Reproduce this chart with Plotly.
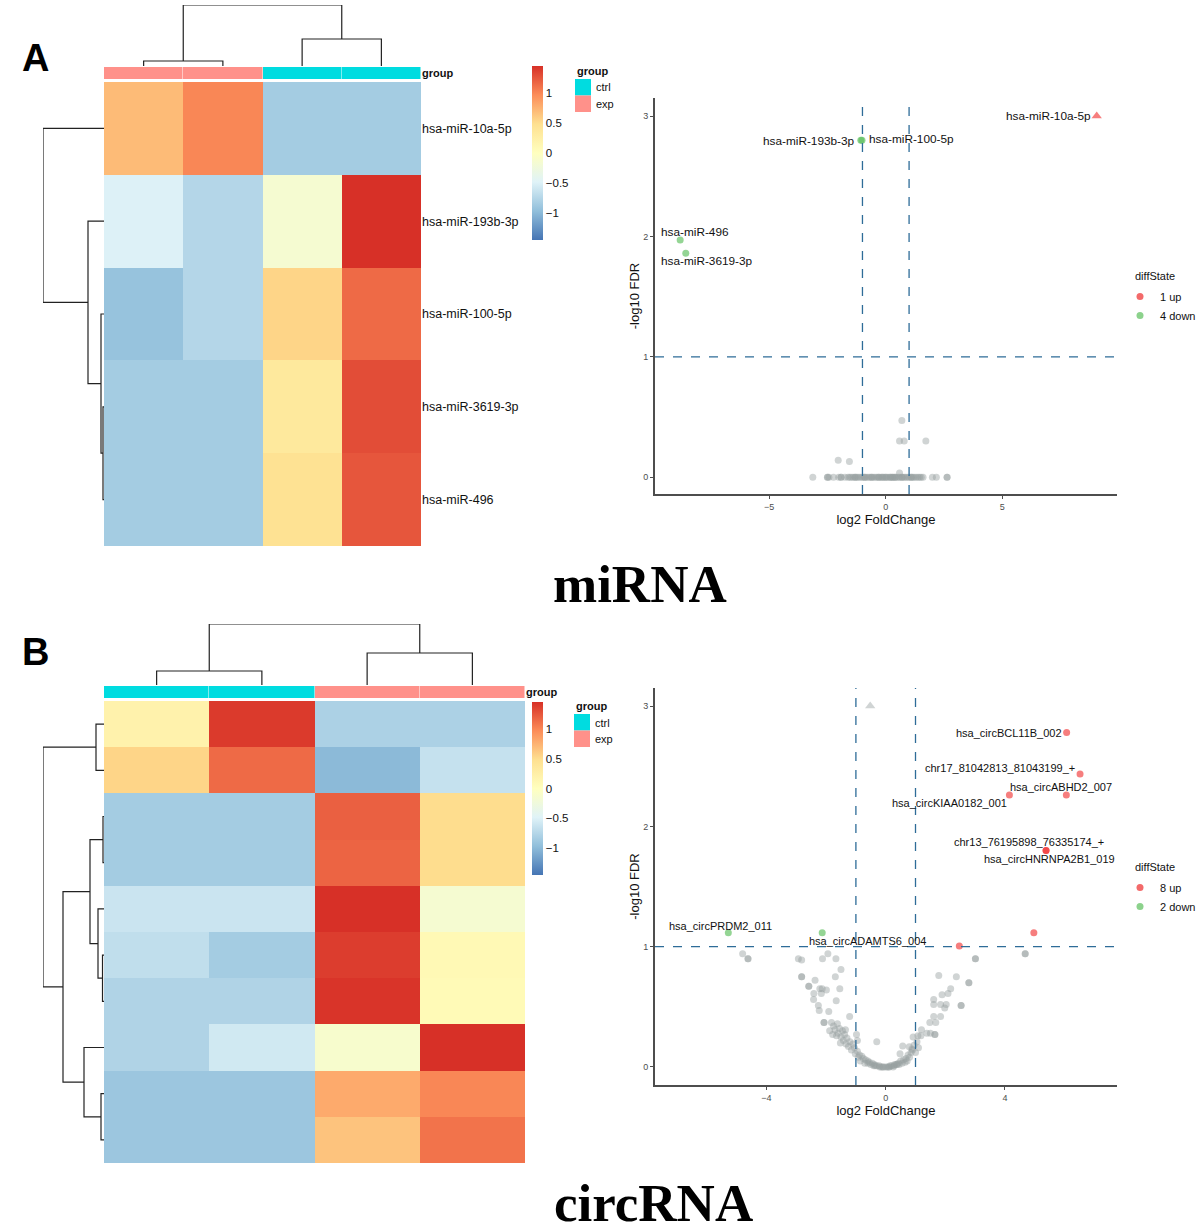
import plotly.graph_objects as go

W, H = 1200, 1226
def PX(p): return p / W
def PY(p): return 1 - p / H

FONT = "Liberation Sans, Arial, sans-serif"

# ---------------- DATA ----------------
group_levels = ["ctrl", "exp"]
group_colors = ["#00DCE0", "#FF918A"]

mirna_rows = ["hsa-miR-10a-5p", "hsa-miR-193b-3p", "hsa-miR-100-5p", "hsa-miR-3619-3p", "hsa-miR-496"]
mirna_col_groups = ["exp", "exp", "ctrl", "ctrl"]
mirna_z = [
    [0.70, 1.00, -0.85, -0.85],
    [-0.50, -0.75, -0.15, 1.45],
    [-0.93, -0.75, 0.55, 1.15],
    [-0.85, -0.85, 0.35, 1.30],
    [-0.85, -0.85, 0.45, 1.25],
]
mirna_row_links = [(3, 4, 1), (2, 5, 3), (1, 6, 16), (0, 7, 61)]
mirna_col_links = [(0, 1, 5), (2, 3, 27), (4, 5, 61)]

circ_col_groups = ["ctrl", "ctrl", "exp", "exp"]
circ_z = [
    [0.20, 1.40, -0.80, -0.80],
    [0.55, 1.15, -1.00, -0.65],
    [-0.85, -0.85, 1.20, 0.50],
    [-0.85, -0.85, 1.18, 0.50],
    [-0.62, -0.62, 1.45, -0.15],
    [-0.68, -0.85, 1.38, 0.10],
    [-0.78, -0.78, 1.43, 0.08],
    [-0.78, -0.58, -0.12, 1.45],
    [-0.90, -0.90, 0.80, 1.00],
    [-0.90, -0.90, 0.65, 1.10],
]
circ_row_links = [(5, 6, 1.5), (2, 3, 1), (8, 9, 3), (4, 10, 6), (0, 1, 8),
                  (11, 13, 14), (7, 12, 20), (15, 16, 41), (14, 17, 61)]
circ_col_links = [(0, 1, 14), (2, 3, 32), (4, 5, 61)]

heat_ticks = [-1, -0.5, 0, 0.5, 1]
heat_lim = 1.45

# volcano miRNA
mir_up_names = ["hsa-miR-10a-5p"]
mir_up_x = [9.05]
mir_up_y = [3.0]
mir_down_names = ["hsa-miR-193b-3p", "hsa-miR-100-5p", "hsa-miR-496", "hsa-miR-3619-3p"]
mir_down_x = [-1.07, -1.02, -8.82, -8.58]
mir_down_y = [2.80, 2.80, 1.97, 1.86]
mir_ns_x = [-3.13, -2.50, -2.50, -2.44, -2.24, -2.02, -1.92, -1.92, -1.75, -1.62, -1.55, -1.48,
            -1.40, -1.33, -1.25, -1.18, -1.10, -1.02, -0.95, -0.88, -0.80, -0.72, -0.65, -0.58,
            -0.50, -0.42, -0.35, -0.28, -0.20, -0.12, -0.05, 0.03, 0.10, 0.18, 0.25, 0.32, 0.40,
            0.47, 0.55, 0.62, 0.70, 0.78, 0.85, 0.93, 1.00, 1.08, 1.15, 1.22, 1.30, 1.38, 1.45,
            1.52, 1.60, 2.00, 2.17, 2.63, 2.63, -0.60, -0.30, 0.00, 0.20, 0.40, -0.90, 0.70,
            -1.30, 1.10, -0.15, 0.30, 0.69, 0.59, 0.79, 1.72, -2.04, -1.56, 0.59]
mir_ns_y = [0.0] * 64 + [0.0, 0.0, 0.0, 0.0, 0.47, 0.30, 0.30, 0.30, 0.14, 0.13, 0.035]

# volcano circRNA
circ_up_names = ["hsa_circBCL11B_002", "chr17_81042813_81043199_+", "hsa_circABHD2_007",
                 "hsa_circKIAA0182_001", "chr13_76195898_76335174_+", "hsa_circHNRNPA2B1_019", "", ""]
circ_up_x = [6.07, 6.52, 6.06, 4.15, 5.38, 5.38, 4.97, 2.47]
circ_up_y = [2.78, 2.435, 2.26, 2.26, 1.80, 1.80, 1.116, 1.005]
circ_down_names = ["hsa_circPRDM2_011", "hsa_circADAMTS6_004"]
circ_down_x = [-5.28, -2.13]
circ_down_y = [1.116, 1.116]
circ_cap_x = [-0.52]
circ_cap_y = [3.0]
circ_ns_x = [
    -4.80, -4.62, -4.62, -2.93, -2.82, -2.12, -1.94, -1.67, -2.82, -2.82, -1.50, -1.69, -2.37,
    -2.58, -2.58, -2.21, -2.13, -1.99, -1.54, -2.41, -2.16, -2.42, -1.66, -2.26, -2.23, -1.91,
    -2.07, -2.07, -1.82, -1.21,
    -1.88, -1.78, -1.75, -1.62, -1.70, -1.55, -1.45, -1.60, -1.38, -1.50, -1.30, -1.42, -1.20,
    -1.33, -1.10, -1.25, -1.05, -1.15, -0.95, -1.02, -0.88, -0.80, -0.92, -0.75, -0.68, -0.85,
    -0.60, -0.55, -0.70, -0.45, -0.50, -0.38, -0.30, -0.22, -0.15, -0.08, -0.30, -0.98, -0.95,
    -1.35, -1.65, -1.52,
    3.01, 3.01, 4.68, 4.68, 1.78, 2.37, 2.79, 2.79, 2.18, 2.09, 1.89, 1.61, 1.61, 1.84, 2.03,
    1.98, 2.53, 2.53, 1.61, 1.84, 1.48, 1.68, 1.20, 1.38, 1.50, 1.65, 1.65, 0.92, 1.08, 1.18,
    1.05, 0.95, 1.10, 0.88, 0.85, 1.00, 0.75, 0.80, 0.68, 0.60, 0.72, 0.50, 0.55, 0.42, 0.35,
    0.28, 0.20, 0.12, 0.05, 0.00, 0.57, 0.79, 0.90, 0.48,
    -0.40, -0.20, -0.10, 0.10, 0.15, 0.25, 0.30, 0.45, -0.60, -0.35, 0.38, 0.65]
circ_ns_y = [
    0.94, 0.90, 0.90, 0.90, 0.89, 0.90, 0.94, 0.90, 0.75, 0.75, 0.81, 0.75, 0.72,
    0.67, 0.67, 0.65, 0.65, 0.64, 0.65, 0.61, 0.61, 0.56, 0.55, 0.51, 0.47, 0.46,
    0.37, 0.37, 0.37, 0.42,
    0.30, 0.27, 0.34, 0.36, 0.31, 0.32, 0.30, 0.28, 0.27, 0.25, 0.24, 0.22, 0.21,
    0.19, 0.19, 0.17, 0.16, 0.14, 0.13, 0.11, 0.10, 0.09, 0.08, 0.07, 0.06, 0.05,
    0.05, 0.04, 0.03, 0.03, 0.02, 0.02, 0.01, 0.01, 0.00, 0.00, 0.21, 0.27, 0.22,
    0.31, 0.26, 0.20,
    0.90, 0.90, 0.94, 0.94, 0.76, 0.75, 0.70, 0.70, 0.65, 0.61, 0.60, 0.56, 0.52, 0.52, 0.52,
    0.49, 0.51, 0.51, 0.42, 0.42, 0.37, 0.37, 0.31, 0.28, 0.28, 0.27, 0.27, 0.25, 0.26, 0.26,
    0.21, 0.18, 0.16, 0.15, 0.12, 0.12, 0.10, 0.08, 0.07, 0.06, 0.05, 0.05, 0.03, 0.03, 0.02,
    0.01, 0.01, 0.00, 0.00, 0.00, 0.175, 0.167, 0.14, 0.11,
    0.01, 0.00, 0.00, 0.00, 0.01, 0.00, 0.02, 0.02, 0.03, 0.01, 0.02, 0.04]

fc_cut = 1
fdr_cut = 1

# ---------------- STYLE ----------------
colorscale = [[i / 6, c] for i, c in enumerate(
    ["#4575B4", "#91BFDB", "#E0F3F8", "#FFFFBF", "#FEE090", "#FC8D59", "#D73027"])]
UP_C = "rgba(240,40,40,0.6)"
DOWN_C = "rgba(90,190,90,0.65)"
NS_C = "rgba(150,160,160,0.45)"
DASH_C = "#2E6C98"
AX_C = "#4D4D4D"

fig = go.Figure()


def ax_name(a):
    base = "xaxis" if a[0] == "x" else "yaxis"
    return base + a[1:]


def dendro(links, n):
    pos = {i: float(i) for i in range(n)}
    hgt = {i: 0.0 for i in range(n)}
    hs, ps = [], []
    for k, (a, b, h) in enumerate(links):
        hs += [hgt[a], h, h, hgt[b], None]
        ps += [pos[a], pos[a], pos[b], pos[b], None]
        pos[n + k] = (pos[a] + pos[b]) / 2
        hgt[n + k] = h
    return hs, ps


def heat_panel(z, col_groups, row_links, col_links, xa, ya, xd, yd, yg,
               x0, x1, y0, y1, dx0, cy0, cy1, gy0, gy1, rowlabels, cb_y0, cb_y1):
    nr, nc = len(z), len(z[0])
    fig.add_trace(go.Heatmap(
        z=z, x=list(range(nc)), y=list(range(nr)), colorscale=colorscale,
        zmin=-heat_lim, zmax=heat_lim, xaxis=xa, yaxis=ya, hoverinfo="skip",
        colorbar=dict(x=PX(532), xanchor="left", xpad=0, ypad=0, thickness=11,
                      len=cb_y1 - cb_y0, lenmode="pixels", y=PY((cb_y0 + cb_y1) / 2),
                      yanchor="middle", outlinewidth=0, tickvals=heat_ticks, ticks="",
                      tickfont=dict(size=11.5, color="#111", family=FONT))))
    gz = [[group_levels.index(g) for g in col_groups]]
    fig.add_trace(go.Heatmap(
        z=gz, x=list(range(nc)), y=[0], colorscale=[[0, group_colors[0]], [1, group_colors[1]]],
        zmin=0, zmax=1, showscale=False, xaxis=xa, yaxis=yg, hoverinfo="skip", xgap=0.5))
    hs, ps = dendro(row_links, nr)
    fig.add_trace(go.Scatter(x=hs, y=ps, mode="lines", line=dict(color="#222", width=1.2),
                             xaxis=xd, yaxis=ya, showlegend=False, hoverinfo="skip"))
    hs, ps = dendro(col_links, nc)
    fig.add_trace(go.Scatter(x=ps, y=hs, mode="lines", line=dict(color="#222", width=1.2),
                             xaxis=xa, yaxis=yd, showlegend=False, hoverinfo="skip"))
    L = {}
    L[ax_name(xa)] = dict(domain=[PX(x0), PX(x1)], range=[-0.5, nc - 0.5], visible=False,
                          anchor=ya)
    L[ax_name(ya)] = dict(domain=[PY(y1), PY(y0)], range=[nr - 0.5, -0.5], anchor=xa,
                          side="right", showgrid=False, zeroline=False, showline=False,
                          ticks="", tickvals=list(range(nr)) if rowlabels else [],
                          ticktext=rowlabels if rowlabels else [],
                          tickfont=dict(size=12.5, color="#111", family=FONT))
    L[ax_name(xd)] = dict(domain=[PX(dx0), PX(x0)], range=[61, 0], visible=False,
                          anchor=ya)
    L[ax_name(yd)] = dict(domain=[PY(cy1), PY(cy0)], range=[0, 61], visible=False,
                          anchor=xa)
    L[ax_name(yg)] = dict(domain=[PY(gy1), PY(gy0)], range=[-0.5, 0.5], anchor=xa,
                          side="right", showgrid=False, zeroline=False, showline=False,
                          ticks="", tickvals=[0], ticktext=["<b>group</b>"],
                          tickfont=dict(size=11, color="#111", family=FONT))
    fig.update_layout(**L)


heat_panel(mirna_z, mirna_col_groups, mirna_row_links, mirna_col_links,
           "x", "y", "x2", "y2", "y3", 104, 421, 82, 546, 43, 5, 66, 67, 79, mirna_rows, 66, 240)
heat_panel(circ_z, circ_col_groups, circ_row_links, circ_col_links,
           "x4", "y5", "x5", "y6", "y7", 104, 525, 701, 1163, 43, 624, 685, 686, 698, None, 702, 875)


def group_legend(x0, ytitle, ysw):
    fig.add_annotation(x=PX(x0), y=PY(ytitle), xref="paper", yref="paper", text="<b>group</b>",
                       showarrow=False, xanchor="left", yanchor="middle",
                       font=dict(size=11, color="#111", family=FONT))
    for i, (g, c) in enumerate(zip(group_levels, group_colors)):
        fig.add_shape(type="rect", xref="paper", yref="paper", x0=PX(x0), x1=PX(x0 + 16),
                      y0=PY(ysw + 16.5 * (i + 1)), y1=PY(ysw + 16.5 * i), fillcolor=c,
                      line=dict(width=0))
        fig.add_annotation(x=PX(x0 + 19), y=PY(ysw + 16.5 * i + 8.5), xref="paper", yref="paper",
                           text=g, showarrow=False, xanchor="left", yanchor="middle",
                           font=dict(size=11, color="#111", family=FONT))


group_legend(575, 71, 79)
group_legend(574, 706, 714)


def volcano(xa, ya, legend, up_x, up_y, up_names, down_x, down_y, down_names, ns_x, ns_y,
            up_symbol, cap_x, cap_y, xr, yr, xt, xdom, ydom, label_pos, title_y, leg_y, lab_size):
    fig.add_trace(go.Scatter(x=ns_x, y=ns_y, mode="markers", xaxis=xa, yaxis=ya,
                             marker=dict(color=NS_C, size=7), showlegend=False, hoverinfo="skip"))
    if cap_x:
        fig.add_trace(go.Scatter(x=cap_x, y=cap_y, mode="markers", xaxis=xa, yaxis=ya,
                                 marker=dict(color=NS_C, size=9, symbol="triangle-up"),
                                 showlegend=False, hoverinfo="skip"))
    fig.add_trace(go.Scatter(x=up_x, y=up_y, mode="markers", xaxis=xa, yaxis=ya,
                             marker=dict(color=UP_C, size=9 if up_symbol != "circle" else 7,
                                         symbol=up_symbol),
                             showlegend=False, hoverinfo="skip"))
    fig.add_trace(go.Scatter(x=down_x, y=down_y, mode="markers", xaxis=xa, yaxis=ya,
                             marker=dict(color=DOWN_C, size=7), showlegend=False, hoverinfo="skip"))
    fig.add_trace(go.Scatter(x=[None], y=[None], mode="markers", xaxis=xa, yaxis=ya,
                             marker=dict(color="#F36A6A", size=7), name=f"{len(up_x)} up",
                             legend=legend))
    fig.add_trace(go.Scatter(x=[None], y=[None], mode="markers", xaxis=xa, yaxis=ya,
                             marker=dict(color="#8CD28C", size=7), name=f"{len(down_x)} down",
                             legend=legend))
    for xs, ys, ns in ((up_x, up_y, up_names), (down_x, down_y, down_names)):
        for xv, yv, nm in zip(xs, ys, ns):
            if not nm:
                continue
            anc, dx, dy = label_pos[nm]
            fig.add_annotation(x=xv, y=yv, xref=xa, yref=ya, text=nm, showarrow=False,
                               xanchor=anc, yanchor="middle", xshift=dx, yshift=dy,
                               font=dict(size=lab_size, color="#111", family=FONT))
    for v in (-fc_cut, fc_cut):
        fig.add_shape(type="line", xref=xa, yref=ya + " domain", x0=v, x1=v, y0=0, y1=1,
                      line=dict(color=DASH_C, width=1.3, dash="dash"))
    fig.add_shape(type="line", xref=xa + " domain", yref=ya, x0=0, x1=1, y0=fdr_cut, y1=fdr_cut,
                  line=dict(color=DASH_C, width=1.3, dash="dash"))
    fig.add_annotation(x=PX(1133), y=PY(title_y), xref="paper", yref="paper",
                       text="diffState", showarrow=False, xanchor="left", yanchor="middle",
                       font=dict(size=11, color="#111", family=FONT))
    common = dict(showline=True, linecolor=AX_C, linewidth=1.8, ticks="outside", ticklen=3,
                  tickcolor=AX_C, tickwidth=1, showgrid=False, zeroline=False,
                  tickfont=dict(size=9, color=AX_C, family=FONT))
    fig.update_layout(**{
        ax_name(xa): dict(domain=[PX(xdom[0]), PX(xdom[1])], range=xr, anchor=ya, tickvals=xt,
                          title=dict(text="log2 FoldChange", standoff=0,
                                     font=dict(size=13, color="#111", family=FONT)), **common),
        ax_name(ya): dict(domain=[PY(ydom[1]), PY(ydom[0])], range=yr, anchor=xa,
                          tickvals=[0, 1, 2, 3],
                          title=dict(text="-log10 FDR", standoff=1,
                                     font=dict(size=13, color="#111", family=FONT)), **common),
        legend: dict(x=PX(1120), y=PY(leg_y), xanchor="left", yanchor="top",
                     font=dict(size=11, color="#111", family=FONT), bgcolor="rgba(0,0,0,0)",
                     itemwidth=30, tracegroupgap=0),
    })


mir_label_pos = {
    "hsa-miR-10a-5p": ("right", -4, 0),
    "hsa-miR-193b-3p": ("right", -4, -1),
    "hsa-miR-100-5p": ("left", 5, 1),
    "hsa-miR-496": ("left", -21, 8),
    "hsa-miR-3619-3p": ("left", -27, -8),
}
circ_label_pos = {
    "hsa_circBCL11B_002": ("right", -3, 0),
    "chr17_81042813_81043199_+": ("right", -3, 6),
    "hsa_circABHD2_007": ("left", -58, 8),
    "hsa_circKIAA0182_001": ("right", 0, -8),
    "chr13_76195898_76335174_+": ("left", -94, 8),
    "hsa_circHNRNPA2B1_019": ("left", -64, -9),
    "hsa_circPRDM2_011": ("left", -61, 7),
    "hsa_circADAMTS6_004": ("left", -15, -8),
}

volcano("x3", "y4", "legend", mir_up_x, mir_up_y, mir_up_names, mir_down_x, mir_down_y,
        mir_down_names, mir_ns_x, mir_ns_y, "triangle-up", [], [], [-9.9, 9.92],
        [-0.14, 3.15], [-5, 0, 5], (655, 1117), (98, 494), mir_label_pos, 276, 282, 11.8)
volcano("x6", "y8", "legend2", circ_up_x, circ_up_y, circ_up_names, circ_down_x, circ_down_y,
        circ_down_names, circ_ns_x, circ_ns_y, "circle", circ_cap_x, circ_cap_y, [-7.74, 7.76],
        [-0.15, 3.15], [-4, 0, 4], (655, 1117), (688, 1085), circ_label_pos, 867, 873, 11)

# panel letters and titles
for txt, x, y in (("A", 35, 58), ("B", 35, 652)):
    fig.add_annotation(x=PX(x), y=PY(y), xref="paper", yref="paper", text=f"<b>{txt}</b>",
                       showarrow=False, xanchor="center", yanchor="middle",
                       font=dict(size=38, color="#000", family="Liberation Sans, Arial"))
for txt, x, y in (("miRNA", 640, 584), ("circRNA", 653, 1203)):
    fig.add_annotation(x=PX(x), y=PY(y), xref="paper", yref="paper", text=f"<b>{txt}</b>",
                       showarrow=False, xanchor="center", yanchor="middle",
                       font=dict(size=53, color="#000", family="Liberation Serif, Times New Roman"))

fig.update_layout(width=W, height=H, autosize=False,
                  margin=dict(l=0, r=0, t=0, b=0, autoexpand=False),
                  paper_bgcolor="white", plot_bgcolor="white", showlegend=True)

fig.write_html("out.html", config={"displayModeBar": False, "responsive": False},
               default_width="1200px", default_height="1226px",
               post_script="document.body.style.margin='0px';document.body.style.overflow='hidden';")
